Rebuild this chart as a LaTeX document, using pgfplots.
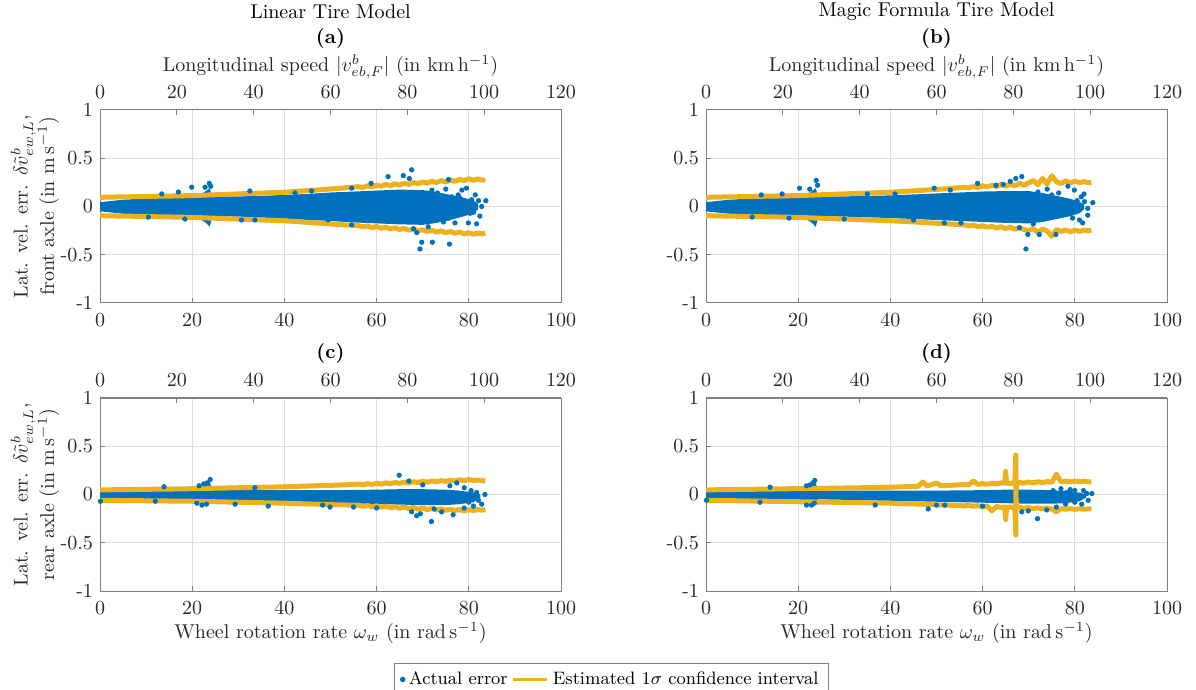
\documentclass[border=0pt]{standalone}
\usepackage{pgfplots}
\pgfplotsset{compat=1.18}
\usepackage{pgfplotstable}
\usepgfplotslibrary{fillbetween}

\definecolor{mblue}{RGB}{0,114,189}
\definecolor{morange}{RGB}{237,177,32}
\definecolor{gridgray}{RGB}{222,222,222}
\definecolor{axgray}{RGB}{128,128,128}
\definecolor{txt}{RGB}{38,38,38}

% ---------- confidence bounds: x, upper, lower ----------
\pgfplotstableread{
x up lo
0 0.095 -0.095
4 0.099 -0.099
8 0.102 -0.102
12 0.106 -0.106
16 0.109 -0.109
20 0.113 -0.113
24 0.120 -0.120
28 0.127 -0.127
32 0.134 -0.134
36 0.141 -0.141
40 0.148 -0.148
44 0.161 -0.161
48 0.174 -0.174
52 0.188 -0.188
56 0.205 -0.197
57 0.198 -0.211
58 0.214 -0.203
59 0.205 -0.218
60 0.221 -0.208
61 0.210 -0.225
62 0.228 -0.214
63 0.216 -0.232
64 0.235 -0.220
65 0.222 -0.238
66 0.241 -0.227
67 0.229 -0.245
68 0.248 -0.233
69 0.236 -0.251
70 0.254 -0.240
71 0.242 -0.258
72 0.261 -0.246
73 0.248 -0.264
74 0.268 -0.253
75 0.255 -0.271
76 0.274 -0.259
77 0.261 -0.277
78 0.281 -0.265
79 0.268 -0.284
80 0.287 -0.272
81 0.272 -0.287
82 0.284 -0.275
83 0.272 -0.283
83.6 0.275 -0.276
}\ciA

\pgfplotstableread{
x up lo
0 0.095 -0.095
4 0.099 -0.099
8 0.102 -0.102
12 0.106 -0.106
16 0.109 -0.109
20 0.113 -0.113
24 0.120 -0.120
28 0.127 -0.127
32 0.134 -0.134
36 0.141 -0.141
40 0.148 -0.148
44 0.159 -0.157
48 0.171 -0.168
52 0.183 -0.179
56 0.199 -0.190
57 0.193 -0.201
58 0.206 -0.194
59 0.197 -0.208
60 0.214 -0.200
61 0.202 -0.215
62 0.221 -0.205
63 0.206 -0.222
64 0.228 -0.210
65 0.210 -0.228
66 0.232 -0.214
67 0.214 -0.235
68 0.240 -0.220
69 0.220 -0.240
70 0.245 -0.250
71 0.270 -0.228
72 0.226 -0.270
73 0.290 -0.234
74 0.232 -0.252
75 0.320 -0.310
76 0.258 -0.240
77 0.238 -0.258
78 0.265 -0.243
79 0.245 -0.262
80 0.262 -0.246
81 0.248 -0.258
82 0.258 -0.244
83 0.245 -0.252
83.6 0.250 -0.245
}\ciB

\pgfplotstableread{
x up lo
0 0.048 -0.060
4 0.050 -0.062
8 0.052 -0.064
12 0.055 -0.066
16 0.057 -0.068
20 0.060 -0.070
24 0.064 -0.074
28 0.068 -0.078
32 0.072 -0.082
36 0.076 -0.086
40 0.080 -0.090
44 0.086 -0.096
48 0.092 -0.102
52 0.098 -0.108
56 0.108 -0.110
57 0.100 -0.122
58 0.112 -0.114
59 0.104 -0.127
60 0.116 -0.117
61 0.108 -0.132
62 0.120 -0.121
63 0.112 -0.137
64 0.124 -0.126
65 0.116 -0.142
66 0.128 -0.130
67 0.120 -0.147
68 0.132 -0.135
69 0.124 -0.152
70 0.136 -0.140
71 0.128 -0.156
72 0.140 -0.144
73 0.132 -0.160
74 0.144 -0.149
75 0.136 -0.163
76 0.148 -0.152
77 0.140 -0.166
78 0.152 -0.155
79 0.144 -0.168
80 0.155 -0.158
81 0.145 -0.165
82 0.150 -0.156
83 0.142 -0.162
83.6 0.140 -0.155
}\ciC

\pgfplotstableread{
x up lo
0 0.048 -0.060
4 0.050 -0.063
8 0.053 -0.066
12 0.055 -0.069
16 0.058 -0.072
20 0.061 -0.075
24 0.063 -0.078
28 0.066 -0.081
32 0.069 -0.084
36 0.072 -0.087
40 0.075 -0.090
44 0.082 -0.097
46 0.084 -0.099
47 0.130 -0.101
48 0.088 -0.104
50 0.120 -0.106
51 0.091 -0.108
54 0.097 -0.113
56 0.104 -0.118
57 0.100 -0.112
58 0.140 -0.122
59 0.103 -0.116
60 0.113 -0.128
61 0.106 -0.120
62 0.117 -0.170
63 0.109 -0.124
64 0.120 -0.134
64.8 0.118 -0.130
65 0.240 -0.260
65.2 0.117 -0.130
66 0.114 -0.130
67 0.124 -0.138
67.2 0.410 -0.420
67.2 0.000 0.000
67.4 0.120 -0.130
68 0.126 -0.132
69 0.118 -0.143
70 0.129 -0.136
71 0.121 -0.146
72 0.131 -0.139
73 0.124 -0.149
74 0.134 -0.141
75 0.127 -0.151
76 0.210 -0.180
77 0.129 -0.146
78 0.139 -0.153
79 0.131 -0.147
80 0.140 -0.154
81 0.133 -0.148
82 0.138 -0.153
83 0.131 -0.149
83.6 0.130 -0.150
}\ciD

% ---------- dense core of the actual error: x, high, low ----------
\pgfplotstableread{
x hi lo
0 0.045 -0.050
2 0.055 -0.060
5 0.070 -0.075
10 0.085 -0.090
15 0.092 -0.095
20 0.098 -0.100
21 0.110 -0.110
22 0.130 -0.140
23 0.160 -0.170
23.8 0.190 -0.210
24.3 0.110 -0.120
25 0.100 -0.100
30 0.105 -0.105
35 0.110 -0.115
40 0.120 -0.125
45 0.130 -0.140
50 0.145 -0.150
55 0.155 -0.165
60 0.165 -0.175
65 0.175 -0.185
70 0.170 -0.190
73 0.150 -0.170
76 0.120 -0.140
79 0.090 -0.100
81 0.060 -0.070
82 0.030 -0.030
}\coreA

\pgfplotstableread{
x hi lo
0 0.045 -0.050
2 0.055 -0.060
5 0.070 -0.075
10 0.085 -0.090
15 0.092 -0.095
20 0.098 -0.100
21 0.110 -0.110
22 0.130 -0.140
23 0.160 -0.170
23.8 0.190 -0.210
24.3 0.110 -0.120
25 0.100 -0.100
30 0.105 -0.105
40 0.115 -0.120
50 0.135 -0.140
55 0.145 -0.150
60 0.155 -0.160
65 0.160 -0.170
70 0.160 -0.175
73 0.140 -0.160
76 0.110 -0.130
79 0.080 -0.100
81 0.050 -0.070
82 0.020 -0.030
}\coreB

\pgfplotstableread{
x hi lo
0 0.030 -0.045
5 0.035 -0.045
10 0.038 -0.048
15 0.040 -0.050
20 0.042 -0.050
21 0.060 -0.070
22 0.080 -0.090
23 0.100 -0.100
23.8 0.130 -0.090
24.3 0.045 -0.055
30 0.045 -0.060
40 0.045 -0.070
50 0.045 -0.085
60 0.050 -0.100
65 0.055 -0.105
70 0.055 -0.110
75 0.050 -0.110
78 0.040 -0.100
81 0.020 -0.080
82.5 0.000 -0.030
}\coreC

\pgfplotstableread{
x hi lo
0 0.030 -0.045
5 0.033 -0.045
10 0.035 -0.047
15 0.037 -0.048
20 0.040 -0.050
21 0.055 -0.065
22 0.070 -0.080
23 0.090 -0.090
23.8 0.120 -0.080
24.3 0.040 -0.050
30 0.040 -0.055
40 0.040 -0.065
50 0.040 -0.075
60 0.045 -0.085
65 0.050 -0.090
70 0.050 -0.095
75 0.045 -0.095
78 0.035 -0.090
81 0.020 -0.070
82.5 0.000 -0.030
}\coreD

% ---------- scattered points of the actual error ----------
\pgfplotstableread{
x y
13.4 0.13
17.0 0.15
19.9 0.20
22.8 0.20
23.7 0.24
24.0 0.21
32.5 0.16
42.3 0.14
45.9 0.16
54.6 0.19
58.8 0.24
62.5 0.31
65.8 0.32
67.1 0.29
67.6 0.38
72.0 0.17
75.6 0.28
77.7 0.12
78.5 0.17
79.5 0.19
80.6 0.07
81.4 0.12
82.1 0.06
83.7 0.06
82.8 0.00
76.3 0.10
74.1 0.04
71.2 0.07
73.2 0.14
75.0 0.18
77.0 0.05
79.0 0.02
80.0 -0.03
81.0 -0.06
82.4 -0.10
81.7 -0.18
79.9 -0.17
80.3 -0.07
78.5 -0.03
77.0 -0.17
75.6 -0.12
73.4 -0.09
71.2 -0.21
69.8 -0.37
69.4 -0.44
72.1 -0.37
75.8 -0.39
68.7 -0.27
68.0 -0.23
54.6 -0.19
49.5 -0.14
33.6 -0.14
30.7 -0.14
18.4 -0.13
10.5 -0.11
76.5 -0.07
78.0 0.09
74.5 -0.16
72.5 0.02
}\ptsA

\pgfplotstableread{
x y
12.0 0.12
16.5 0.13
20.3 0.19
22.5 0.18
23.9 0.27
24.2 0.22
35.0 0.13
41.0 0.13
49.5 0.19
53.0 0.17
58.9 0.24
62.9 0.22
64.5 0.23
66.0 0.26
67.2 0.29
68.5 0.31
72.0 0.15
74.0 0.18
76.5 0.14
78.5 0.21
79.9 0.17
81.4 0.10
82.1 0.05
83.9 0.04
82.8 -0.02
80.5 0.06
78.0 0.03
76.0 0.08
74.5 -0.05
77.5 -0.08
79.5 -0.12
81.0 -0.14
81.7 -0.17
82.8 -0.09
82.0 0.13
80.0 -0.04
73.0 -0.12
71.0 -0.18
69.8 -0.29
69.4 -0.44
72.3 -0.29
75.9 -0.29
68.0 -0.22
55.3 -0.17
51.7 -0.17
45.0 -0.14
30.0 -0.13
18.0 -0.12
10.0 -0.11
75.0 0.12
}\ptsB

\pgfplotstableread{
x y
0.1 -0.07
13.9 0.08
21.5 0.09
22.5 0.11
23.2 0.12
23.9 0.155
33.6 0.07
64.9 0.20
67.0 0.14
70.0 0.10
75.9 0.09
77.4 0.12
79.0 0.07
80.5 0.04
81.7 0.02
83.5 0.00
82.1 -0.06
82.8 -0.10
81.0 -0.12
79.0 -0.14
76.6 -0.21
74.1 -0.18
71.9 -0.28
68.7 -0.22
67.6 -0.18
69.5 -0.20
72.5 -0.15
49.9 -0.13
48.3 -0.11
36.5 -0.12
29.3 -0.10
22.1 -0.11
23.1 -0.10
21.0 -0.09
12.0 -0.07
55.0 -0.13
60.0 -0.14
78.0 -0.04
80.0 -0.08
}\ptsC

\pgfplotstableread{
x y
0.1 -0.06
13.9 0.075
21.8 0.09
22.6 0.10
23.2 0.12
23.6 0.145
21.8 -0.11
22.9 -0.11
23.5 -0.09
11.7 -0.08
36.7 -0.11
48.2 -0.15
50.0 -0.11
51.8 -0.11
60.0 -0.12
68.5 -0.18
69.9 -0.17
71.9 -0.25
73.9 -0.16
76.0 -0.13
78.0 -0.10
80.0 -0.08
81.5 -0.10
82.9 -0.06
83.7 0.01
82.6 0.01
81.9 0.04
80.0 0.04
78.2 0.02
75.3 0.04
77.0 0.06
79.0 0.05
}\ptsD

\pgfplotsset{
  panel/.style={
    width=230.5pt, height=96.5pt, scale only axis, anchor=north west,
    xmin=0, xmax=100, ymin=-1, ymax=1,
    xtick={0,20,...,100}, ytick={-1,-0.5,0,0.5,1},
    yticklabels={-1,-0.5,0,0.5,1},
    xtick pos=bottom, ytick pos=left,
    tick align=inside, major tick length=2.5pt,
    grid=major, major grid style={draw=gridgray, line width=0.5pt},
    axis line style={draw=axgray, line width=0.5pt},
    tick style={draw=axgray, line width=0.5pt},
    ticklabel style={text=txt}, label style={text=txt},
    xticklabel style={yshift=-2pt},
  },
  toppanel/.style={
    width=230.5pt, height=96.5pt, scale only axis, anchor=north west,
    xmin=0, xmax=120, ymin=-1, ymax=1,
    axis x line*=top, axis y line=none,
    xtick={0,20,...,120},
    tick align=inside, major tick length=2.5pt,
    axis line style={draw=axgray, line width=0.5pt},
    tick style={draw=axgray, line width=0.5pt},
    ticklabel style={text=txt}, label style={text=txt},
    xticklabel style={yshift=2pt},
    title style={at={(0.5,1)}, anchor=center, font=\bfseries, text=black},
  },
  cibound/.style={morange, line width=2.5pt, line join=round},
  dots/.style={only marks, mark=*, mark size=1.1pt, mark options={draw=mblue, fill=mblue}},
  ylab/.style={ylabel style={align=center, at={(axis description cs:0,0.5)}, anchor=center, yshift=32.5pt}},
}

\newcommand{\toplabel}{Longitudinal speed $|v^b_{eb,F}|$ (in $\mathrm{km\,h^{-1}}$)}
\newcommand{\botlabel}{Wheel rotation rate $\omega_w$ (in $\mathrm{rad\,s^{-1}}$)}

\begin{document}
\begin{tikzpicture}
\node[text=black] at (165.25pt,-6pt) {Linear Tire Model};
\node[text=black] at (468.25pt,-6pt) {Magic Formula Tire Model};

% (a)
\begin{axis}[panel, at={(50pt,-55pt)}, ylab,
  ylabel={Lat. vel. err. $\delta\tilde{v}^b_{ew,L}$,\\front axle (in $\mathrm{m\,s^{-1}}$)}]
\addplot[cibound] table[x=x, y=up] {\ciA};
\addplot[cibound] table[x=x, y=lo] {\ciA};
\addplot[draw=none, name path=ahi] table[x=x, y=hi] {\coreA};
\addplot[draw=none, name path=alo] table[x=x, y=lo] {\coreA};
\addplot[mblue, draw=none] fill between[of=ahi and alo];
\addplot[dots] table[x=x, y=y] {\ptsA};
\end{axis}
\begin{axis}[toppanel, at={(50pt,-55pt)},
  title={(a)}, title style={yshift=30pt},
  xlabel={\toplabel}, xlabel style={at={(axis description cs:0.5,1)}, anchor=center, yshift=21.5pt}]
\end{axis}

% (b)
\begin{axis}[panel, at={(353pt,-55pt)}]
\addplot[cibound] table[x=x, y=up] {\ciB};
\addplot[cibound] table[x=x, y=lo] {\ciB};
\addplot[draw=none, name path=bhi] table[x=x, y=hi] {\coreB};
\addplot[draw=none, name path=blo] table[x=x, y=lo] {\coreB};
\addplot[mblue, draw=none] fill between[of=bhi and blo];
\addplot[dots] table[x=x, y=y] {\ptsB};
\end{axis}
\begin{axis}[toppanel, at={(353pt,-55pt)},
  title={(b)}, title style={yshift=30pt},
  xlabel={\toplabel}, xlabel style={at={(axis description cs:0.5,1)}, anchor=center, yshift=21.5pt}]
\end{axis}

% (c)
\begin{axis}[panel, at={(50pt,-199pt)}, ylab,
  ylabel={Lat. vel. err. $\delta\tilde{v}^b_{ew,L}$,\\rear axle (in $\mathrm{m\,s^{-1}}$)},
  xlabel={\botlabel}, xlabel style={at={(axis description cs:0.5,0)}, anchor=center, yshift=-21pt},
  legend columns=2,
  legend style={at={(axis description cs:1.1095,-0.373)}, anchor=north,
    draw=axgray, line width=0.5pt, fill=white, text=black, font=\small,
    /tikz/every even column/.append style={column sep=0pt}},
  legend cell align=left]
\addlegendimage{dots}
\addlegendentry{Actual error}
\addlegendimage{morange, line width=1.5pt}
\addlegendentry{Estimated $1\sigma$ confidence interval}
\addplot[cibound, forget plot] table[x=x, y=up] {\ciC};
\addplot[cibound, forget plot] table[x=x, y=lo] {\ciC};
\addplot[draw=none, name path=chi, forget plot] table[x=x, y=hi] {\coreC};
\addplot[draw=none, name path=clo, forget plot] table[x=x, y=lo] {\coreC};
\addplot[mblue, draw=none, forget plot] fill between[of=chi and clo];
\addplot[dots, forget plot] table[x=x, y=y] {\ptsC};
\end{axis}
\begin{axis}[toppanel, at={(50pt,-199pt)},
  title={(c)}, title style={yshift=16.5pt}]
\end{axis}

% (d)
\begin{axis}[panel, at={(353pt,-199pt)},
  xlabel={\botlabel}, xlabel style={at={(axis description cs:0.5,0)}, anchor=center, yshift=-21pt}]
\addplot[cibound] table[x=x, y=up] {\ciD};
\addplot[cibound] table[x=x, y=lo] {\ciD};
\addplot[draw=none, name path=dhi] table[x=x, y=hi] {\coreD};
\addplot[draw=none, name path=dlo] table[x=x, y=lo] {\coreD};
\addplot[mblue, draw=none] fill between[of=dhi and dlo];
\addplot[dots] table[x=x, y=y] {\ptsD};
\end{axis}
\begin{axis}[toppanel, at={(353pt,-199pt)},
  title={(d)}, title style={yshift=16.5pt}]
\end{axis}

\pgfresetboundingbox
\path[use as bounding box] (0,0) rectangle (598pt,-345pt);
\end{tikzpicture}
\end{document}
